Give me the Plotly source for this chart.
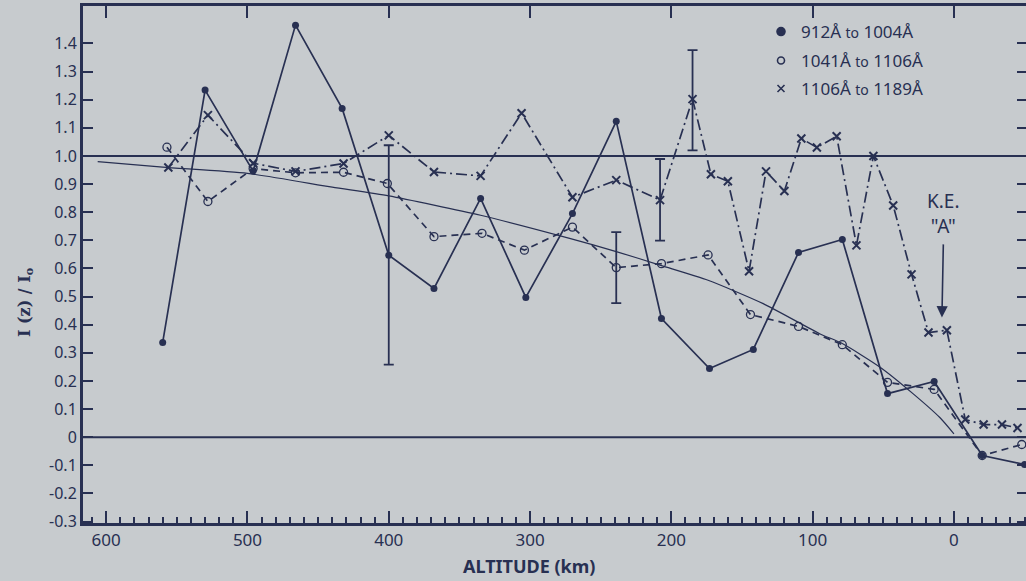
import plotly.graph_objects as go

# ---------------- data ----------------
alt_912 = [560, 530, 496, 466, 433, 400, 368, 335, 303, 270, 239, 207, 173, 142, 110, 79, 47, 14, -20, -50]
val_912 = [0.337, 1.234, 0.946, 1.465, 1.169, 0.647, 0.529, 0.849, 0.497, 0.795, 1.123, 0.422, 0.244, 0.312, 0.657, 0.703, 0.155, 0.198, -0.065, -0.097]

alt_1041 = [557, 528, 496, 466, 432, 401, 368, 334, 304, 270, 239, 207, 174, 144, 110, 79, 47, 14, -20, -48]
val_1041 = [1.031, 0.838, 0.955, 0.940, 0.942, 0.902, 0.713, 0.725, 0.665, 0.747, 0.603, 0.617, 0.648, 0.436, 0.394, 0.329, 0.195, 0.170, -0.065, -0.026]

alt_1106 = [556, 528, 496, 466, 432, 400, 368, 335, 306, 270, 239, 208, 185, 172, 160, 145, 133, 120, 108, 97, 83, 69, 57, 43, 30, 18, 5, -8, -21, -34, -45]
val_1106 = [0.959, 1.145, 0.974, 0.945, 0.973, 1.073, 0.943, 0.929, 1.152, 0.853, 0.914, 0.843, 1.202, 0.935, 0.910, 0.590, 0.945, 0.875, 1.062, 1.030, 1.070, 0.682, 1.000, 0.824, 0.579, 0.372, 0.380, 0.063, 0.045, 0.045, 0.033]

err_alt = [400, 239, 208, 185]
err_mid = [0.647, 0.605, 0.845, 1.202]
err_hi = [1.038, 0.729, 0.989, 1.376]
err_lo = [0.258, 0.477, 0.699, 1.020]

curve_alt = [606, 560, 500, 440, 400, 335, 272, 239, 207, 174, 135, 95, 79, 52, 29, 10, 0]
curve_val = [0.980, 0.960, 0.938, 0.889, 0.858, 0.789, 0.707, 0.660, 0.610, 0.558, 0.475, 0.368, 0.333, 0.248, 0.155, 0.070, 0.012]

x_ticks = [600, 500, 400, 300, 200, 100, 0]
y_ticks = [1.4, 1.3, 1.2, 1.1, 1.0, 0.9, 0.8, 0.7, 0.6, 0.5, 0.4, 0.3, 0.2, 0.1, 0.0, -0.1, -0.2, -0.3]
y_tick_text = ["1.4", "1.3", "1.2", "1.1", "1.0", "0.9", "0.8", "0.7", "0.6", "0.5", "0.4", "0.3", "0.2", "0.1", "0", "-0.1", "-0.2", "-0.3"]

legend_names = ["912Å <span style='font-size:14px'>to</span> 1004Å",
                "1041Å <span style='font-size:14px'>to</span> 1106Å",
                "1106Å <span style='font-size:14px'>to</span> 1189Å"]

# ---------------- style ----------------
INK = "#283052"
BG = "#c7cbce"
FONT = "Noto Sans"

fig = go.Figure()

# smooth reference curve
fig.add_trace(go.Scatter(x=curve_alt, y=curve_val, mode="lines",
                         line=dict(color=INK, width=1.2, shape="spline", smoothing=0.6),
                         showlegend=False, hoverinfo="skip"))

# series
fig.add_trace(go.Scatter(x=alt_912, y=val_912, mode="lines+markers",
                         line=dict(color=INK, width=1.7),
                         marker=dict(symbol="circle", size=7, color=INK),
                         showlegend=False))
fig.add_trace(go.Scatter(x=alt_1041, y=val_1041, mode="lines+markers",
                         line=dict(color=INK, width=1.7, dash="7px,5px"),
                         marker=dict(symbol="circle-open", size=8, color=INK, line=dict(width=1.3)),
                         showlegend=False))
fig.add_trace(go.Scatter(x=alt_1106, y=val_1106, mode="lines+markers",
                         line=dict(color=INK, width=1.7, dash="11px,4px,2px,4px"),
                         marker=dict(symbol="x-thin-open", size=8, color=INK, line=dict(width=2, color=INK)),
                         showlegend=False))

# error bars
fig.add_trace(go.Scatter(x=err_alt, y=err_mid, mode="markers",
                         marker=dict(size=1, color="rgba(0,0,0,0)"),
                         error_y=dict(type="data", symmetric=False,
                                      array=[h - m for h, m in zip(err_hi, err_mid)],
                                      arrayminus=[m - l for m, l in zip(err_mid, err_lo)],
                                      color=INK, thickness=1.8, width=5),
                         showlegend=False, hoverinfo="skip"))

# legend-only entries (markers only, like the original), each in its own legend box
legend_keys = ["legend", "legend2", "legend3"]
for name, sym, sz, lk in zip(legend_names, ["circle", "circle-open", "x-thin-open"], [8, 7, 7], legend_keys):
    fig.add_trace(go.Scatter(x=[None], y=[None], mode="markers", name=name, legend=lk,
                             marker=dict(symbol=sym, size=sz, color=INK, line=dict(width=1.6, color=INK))))

# reference lines at 1.0 and 0
for yv in (1.0, 0.0):
    fig.add_shape(type="line", xref="paper", x0=0, x1=1, yref="y", y0=yv, y1=yv,
                  line=dict(color=INK, width=2))

# K.E. "A" annotation with arrow
fig.add_annotation(x=8.5, y=0.426, xref="x", yref="y", text="K.E.<br>\"A\"", showarrow=True,
                   ax=2, ay=-104, arrowhead=2, arrowsize=1.4, arrowwidth=1.6, arrowcolor=INK,
                   standoff=0, startstandoff=4,
                   font=dict(family=FONT, size=19, color=INK), align="center")

# axis titles placed as annotations
fig.add_annotation(x=(529 - 83) / 943, y=(523 - 566) / 517, xref="paper", yref="paper",
                   text="<b>ALTITUDE (km)</b>", showarrow=False,
                   font=dict(family=FONT, size=18, color=INK), xanchor="center", yanchor="middle")
fig.add_annotation(x=(25 - 83) / 943, y=(523 - 302) / 517, xref="paper", yref="paper",
                   text="<b>I (z) / I<sub>o</sub></b>", showarrow=False, textangle=-90,
                   font=dict(family="DejaVu Serif", size=16, color=INK), xanchor="center", yanchor="middle")

def legend_box(top_px):
    return dict(x=(761 - 83) / 943, y=(523 - top_px) / 517, xanchor="left", yanchor="top",
                bgcolor="rgba(0,0,0,0)", font=dict(size=17, color=INK, family=FONT),
                itemwidth=30, borderwidth=0)

fig.update_layout(
    width=1026, height=581,
    margin=dict(l=83, r=0, t=6, b=58),
    paper_bgcolor=BG, plot_bgcolor=BG,
    font=dict(family=FONT, color=INK, size=14),
    legend=legend_box(14),
    legend2=legend_box(43),
    legend3=legend_box(71),
    xaxis=dict(range=[616.4, -51], tickvals=x_ticks, ticktext=[str(v) for v in x_ticks],
               ticks="inside", ticklen=12, tickwidth=2, tickcolor=INK,
               minor=dict(ticks="inside", dtick=10, tick0=0, ticklen=6, tickwidth=1.5, tickcolor=INK),
               showline=True, linewidth=3, linecolor=INK, mirror=True,
               showgrid=False, zeroline=False, automargin=False,
               tickfont=dict(size=17, color=INK)),
    xaxis2=dict(range=[616.4, -51], overlaying="x", side="top", tickvals=x_ticks,
                ticks="inside", ticklen=12, tickwidth=2, tickcolor=INK, automargin=False,
                showticklabels=False, showline=False, showgrid=False, zeroline=False),
    yaxis=dict(range=[-0.305, 1.533], tickvals=y_ticks, ticktext=y_tick_text,
               ticks="inside", ticklen=10, tickwidth=2, tickcolor=INK,
               showline=True, linewidth=3, linecolor=INK,
               showgrid=False, zeroline=False, automargin=False,
               tickfont=dict(size=16, color=INK)),
    yaxis2=dict(range=[-0.305, 1.533], overlaying="y", side="right", tickvals=y_ticks,
                ticks="inside", ticklen=9, tickwidth=2, tickcolor=INK, automargin=False,
                showticklabels=False, showline=False, showgrid=False, zeroline=False),
)

# dummy trace to activate the overlay axes
fig.add_trace(go.Scatter(x=[None], y=[None], xaxis="x2", yaxis="y2", showlegend=False, hoverinfo="skip"))

fig.write_html("out.html", config={"displayModeBar": False},
               post_script="document.body.style.margin='0';document.body.style.padding='0';"
                           "document.body.style.overflow='hidden';"
                           "document.body.style.background='" + BG + "';")
